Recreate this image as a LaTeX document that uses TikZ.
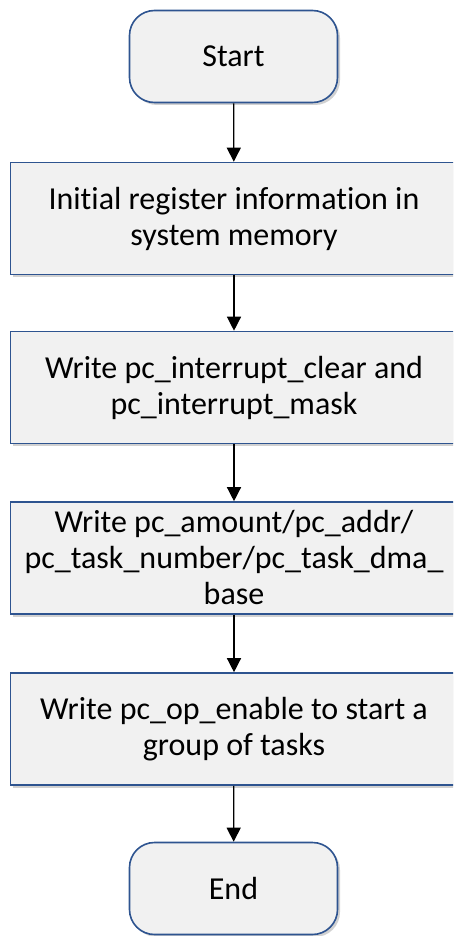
\documentclass[tikz,border=0pt]{standalone}
\usepackage{fontspec}
\setmainfont{Carlito}[Ligatures=NoCommon]
\usetikzlibrary{arrows.meta,shadows}
\begin{document}
\begin{tikzpicture}[x=1pt,y=1pt,
  base/.style={draw=boxblue, line width=1.6pt, fill=boxfill, align=center,
    font=\fontsize{32}{36}\selectfont, inner sep=0pt,
    drop shadow={shadow xshift=2.5pt, shadow yshift=-2.5pt, opacity=0.3, fill=black!60}},
  termbox/.style={base, rounded corners=25pt, minimum width=208pt, minimum height=92pt},
  stepbox/.style={base, minimum width=447pt, minimum height=112pt},
  arr/.style={-{Triangle[length=14pt,width=14pt]}, line width=1.3pt, black}]
\definecolor{boxblue}{HTML}{2E5490}
\definecolor{boxfill}{HTML}{F1F1F1}
\useasboundingbox (0,0) rectangle (453,-936);
\clip (0,0) rectangle (453,-936);
\node[termbox] (start) at (233.5,-56.5) {Start};
\node[stepbox] (s1) at (234,-218.5) {Initial register information in\\system memory};
\node[stepbox] (s2) at (234,-387.5) {Write pc\_interrupt\_clear and\\pc\_interrupt\_mask};
\node[stepbox] (s3) at (234,-558) {Write pc\_amount/pc\_addr/\\pc\_task\_number/pc\_task\_dma\_\\base};
\node[stepbox] (s4) at (234,-729) {Write pc\_op\_enable to start a\\group of tasks};
\node[termbox] (end) at (233.5,-888.5) {End};
\draw[arr] (start) -- (s1);
\draw[arr] (s1) -- (s2);
\draw[arr] (s2) -- (s3);
\draw[arr] (s3) -- (s4);
\draw[arr] (s4) -- (end);
\end{tikzpicture}
\end{document}
